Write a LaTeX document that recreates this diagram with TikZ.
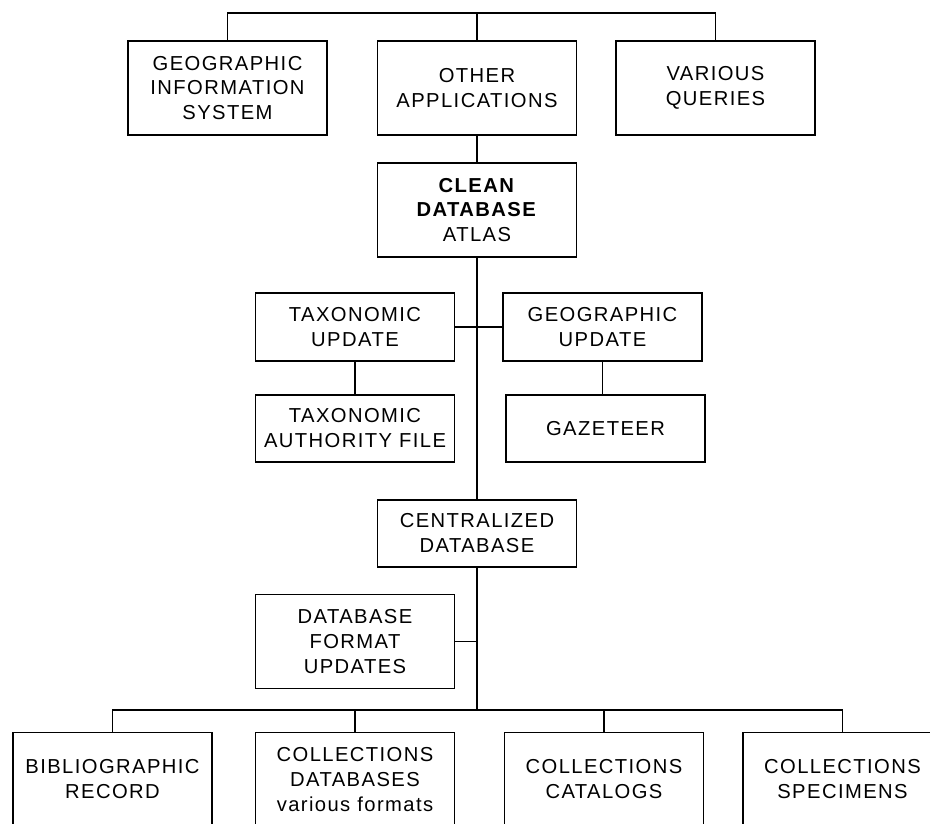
\documentclass[tikz,border=0pt]{standalone}
\usepackage{fontspec}
\setmainfont[LetterSpace=7]{Liberation Sans}
\usepackage{tikz}
\usetikzlibrary{calc}

\begin{document}
\begin{tikzpicture}[x = 0.02cm, y = -0.02cm, line width = 0.9pt,
	box/.style = {draw, align = center, minimum width = 3.98cm, inner sep = 0pt, font = \fontsize{11.5}{14.2}\selectfont},
	tallbox/.style = {box, minimum height = 1.88cm},
	flatbox/.style = {box, minimum height = 1.35cm}]
						\useasboundingbox (0,0) rectangle (930,823);
						\clip (0,0) rectangle (930,823);
						\begin{scope}
							\node [tallbox] (gis) at (227.5,88) {GEOGRAPHIC\\INFORMATION\\SYSTEM};
							\node [tallbox] (other) at (477,88) {OTHER\\APPLICATIONS};
							\node [tallbox] (queries) at (715.5,88) {VARIOUS\\QUERIES};
							\node [tallbox] (clean) at (477,210) {\textbf{CLEAN}\\\textbf{DATABASE}\\ATLAS};
						\end{scope}
						\begin{scope}
							\node [flatbox] (taxupd) at (355,327) {TAXONOMIC\\UPDATE};
							\node [flatbox] (geoupd) at (602.5,327) {GEOGRAPHIC\\UPDATE};
							\node [flatbox] (taxauth) at (355,428.5) {TAXONOMIC\\AUTHORITY FILE};
							\node [flatbox] (gaz) at (605.5,428.5) {GAZETEER};
							\node [flatbox] (central) at (477,533.5) {CENTRALIZED\\DATABASE};
							\node [tallbox] (dbformat) at (355,641.5) {DATABASE\\FORMAT\\UPDATES};
						\end{scope}
						\begin{scope}
							\node [tallbox] (biblio) at (112.5,779.5) {BIBLIOGRAPHIC\\RECORD};
							\node [tallbox] (colldb) at (355,779.5) {COLLECTIONS\\DATABASES\\various formats};
							\node [tallbox] (collcat) at (604,779.5) {COLLECTIONS\\CATALOGS};
							\node [tallbox] (collspec) at (842.5,779.5) {COLLECTIONS\\SPECIMENS};
						\end{scope}
						\begin{scope}
							\coordinate (top) at (477,13);
							\coordinate (split) at (477,710);
							\draw (gis.north) |- (top) -| (queries.north);
							\draw (other.north) -- (top);
							\draw (other.south) -- (clean.north);
							\draw (clean.south) -- (central.north);
							\draw (taxupd.east) -- (geoupd.west);
							\draw (taxupd.south) -- (taxauth.north);
							\draw (geoupd.south) -- (geoupd.south |- gaz.north);
							\draw (central.south) -- (split);
							\draw (dbformat.east) -- (dbformat.east -| split);
							\draw (biblio.north) |- (split) -| (collspec.north);
							\draw (colldb.north) -- (colldb.north |- split);
							\draw (collcat.north) -- (collcat.north |- split);
						\end{scope}
					\end{tikzpicture}
\end{document}
